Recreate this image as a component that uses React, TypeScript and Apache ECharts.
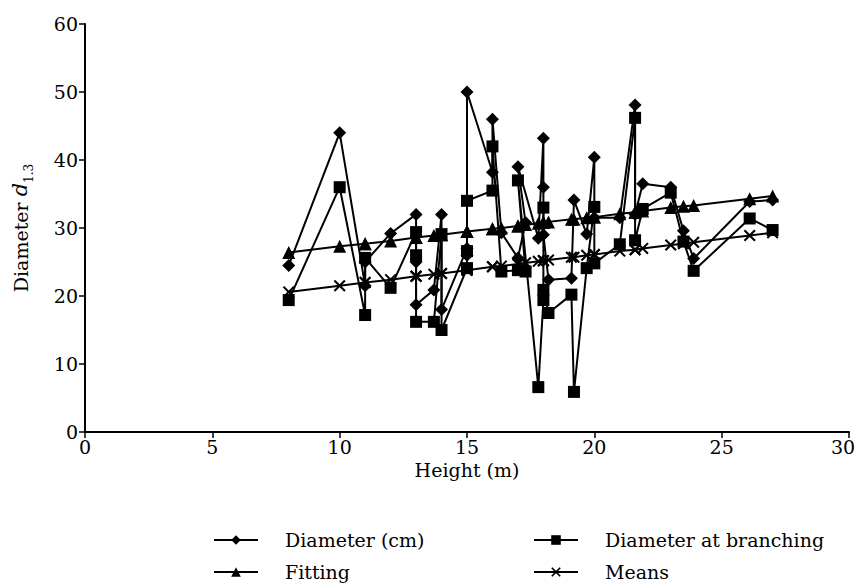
import React, { useEffect, useRef } from "react";
import * as echarts from "echarts";

// Each row: one tree (height, diameter, diameter at branching, fitting, mean)
const heights = [8, 10, 11, 11, 12, 13, 13, 13, 13.7, 14, 14, 15, 15, 15, 16, 16, 16.35, 17, 17.3, 17, 17.8, 18, 18, 18, 18.2, 19.1, 19.2, 19.7, 20, 20, 21, 21.6, 21.6, 21.9, 23, 23.5, 23.9, 26.1, 27];
const diameter = [24.5, 44, 21.5, 25, 29.2, 32, 25, 18.7, 20.9, 32, 18, 27, 26, 50, 38.2, 46, 29.3, 25.6, 30.8, 39, 28.5, 43.2, 36, 29, 22.4, 22.6, 34.1, 29.1, 40.4, 31.5, 31.5, 48.1, 32, 36.5, 36, 29.6, 25.5, 33.9, 34.1];
const branching = [19.4, 36, 17.2, 25.6, 21.2, 29.4, 26, 16.2, 16.2, 29.1, 15, 24.1, 26.6, 34, 35.5, 42, 23.6, 23.8, 23.6, 37, 6.6, 19.4, 33, 20.9, 17.5, 20.2, 5.9, 24.1, 33.1, 24.8, 27.6, 46.2, 28.2, 32.8, 35.2, 28, 23.7, 31.4, 29.7];
const fitting = [26.4, 27.3, 27.7, 27.7, 28.1, 28.6, 28.6, 28.6, 28.9, 29.0, 29.0, 29.5, 29.5, 29.5, 29.9, 29.9, 30.0, 30.3, 30.5, 30.3, 30.7, 30.8, 30.8, 30.8, 30.9, 31.3, 31.3, 31.5, 31.6, 31.6, 32.1, 32.3, 32.3, 32.5, 33.0, 33.2, 33.3, 34.3, 34.7];
const means = [20.6, 21.5, 22.0, 22.0, 22.4, 22.9, 22.9, 22.9, 23.2, 23.3, 23.3, 23.8, 23.8, 23.8, 24.3, 24.3, 24.4, 24.7, 24.9, 24.7, 25.1, 25.2, 25.2, 25.2, 25.3, 25.7, 25.7, 26.0, 26.1, 26.1, 26.6, 26.8, 26.8, 27.0, 27.5, 27.7, 27.9, 28.9, 29.3];

const seriesNames = ["Diameter (cm)", "Diameter at branching", "Fitting", "Means"];
const X_MAX = 30;

const FONT = "'DejaVu Serif', 'Liberation Serif', serif";
const CROSS = "path://M0,1.2 L1.2,0 L5,3.8 L8.8,0 L10,1.2 L6.2,5 L10,8.8 L8.8,10 L5,6.2 L1.2,10 L0,8.8 L3.8,5 Z";

const pairs = (ys: number[]) => heights.map((h, i) => [h, ys[i]]);

export default function App() {
  const ref = useRef<HTMLDivElement>(null);
  useEffect(() => {
    const chart = echarts.init(ref.current!, undefined, { renderer: "svg" });
    const mk = (name: string, ys: number[], symbol: string, size: number) => ({
      name,
      type: "line",
      data: pairs(ys),
      symbol,
      symbolSize: size,
      showSymbol: true,
      lineStyle: { color: "#000", width: 2 },
      itemStyle: { color: "#000" },
      z: 2,
    });
    chart.setOption({
      animation: false,
      backgroundColor: "#fff",
      textStyle: { fontFamily: FONT },
      grid: { left: 85, right: 9, top: 24, bottom: 153, containLabel: false, outerBoundsMode: "none" },
      xAxis: {
        type: "value",
        min: 0,
        max: X_MAX,
        interval: 5,
        name: "Height (m)",
        nameLocation: "middle",
        nameGap: 19,
        nameTextStyle: { fontFamily: FONT, fontSize: 19, color: "#000" },
        axisLine: { lineStyle: { color: "#000", width: 2 } },
        axisTick: { length: 6, lineStyle: { color: "#000", width: 1.5 } },
        axisLabel: {
          fontFamily: FONT,
          fontSize: 19,
          color: "#000",
          margin: 5,
          formatter: (v: number) => (v === X_MAX ? "{r|" + v + "}" : String(v)),
          rich: { r: { fontFamily: FONT, fontSize: 19, color: "#000", width: 36, align: "left" } },
        },
        splitLine: { show: false },
      },
      yAxis: {
        type: "value",
        min: 0,
        max: 60,
        interval: 10,
        name: "{a|Diameter }{i|d}{s|1.3}",
        nameLocation: "middle",
        nameRotate: 90,
        nameGap: 55,
        nameTextStyle: {
          fontFamily: FONT,
          color: "#000",
          rich: {
            a: { fontFamily: FONT, fontSize: 19, color: "#000", lineHeight: 22, verticalAlign: "bottom" },
            i: { fontFamily: FONT, fontSize: 21, fontStyle: "italic", color: "#000", lineHeight: 22, verticalAlign: "bottom" },
            s: { fontFamily: FONT, fontSize: 12, color: "#000", lineHeight: 22, verticalAlign: "bottom", padding: [0, 0, -5, 0] },
          },
        },
        axisLine: { show: true, lineStyle: { color: "#000", width: 2 } },
        axisTick: { show: true, length: 6, lineStyle: { color: "#000", width: 1.5 } },
        axisLabel: { fontFamily: FONT, fontSize: 19, color: "#000", margin: 7 },
        splitLine: { show: false },
      },
      legend: {
        left: 208,
        top: 523,
        width: 650,
        orient: "horizontal",
        itemGap: 8,
        itemWidth: 44,
        itemHeight: 12,
        data: seriesNames,
        textStyle: {
          fontFamily: FONT,
          fontSize: 19,
          color: "#000",
          width: 240,
          lineHeight: 24,
          padding: [0, 0, 0, 22],
        },
      },
      series: [
        mk(seriesNames[0], diameter, "diamond", 13),
        mk(seriesNames[1], branching, "rect", 12),
        mk(seriesNames[2], fitting, "triangle", 13),
        mk(seriesNames[3], means, CROSS, 12),
      ],
    });
    return () => chart.dispose();
  }, []);
  return <div ref={ref} style={{ position: "fixed", left: 0, top: 0, width: 858, height: 585 }} />;
}
